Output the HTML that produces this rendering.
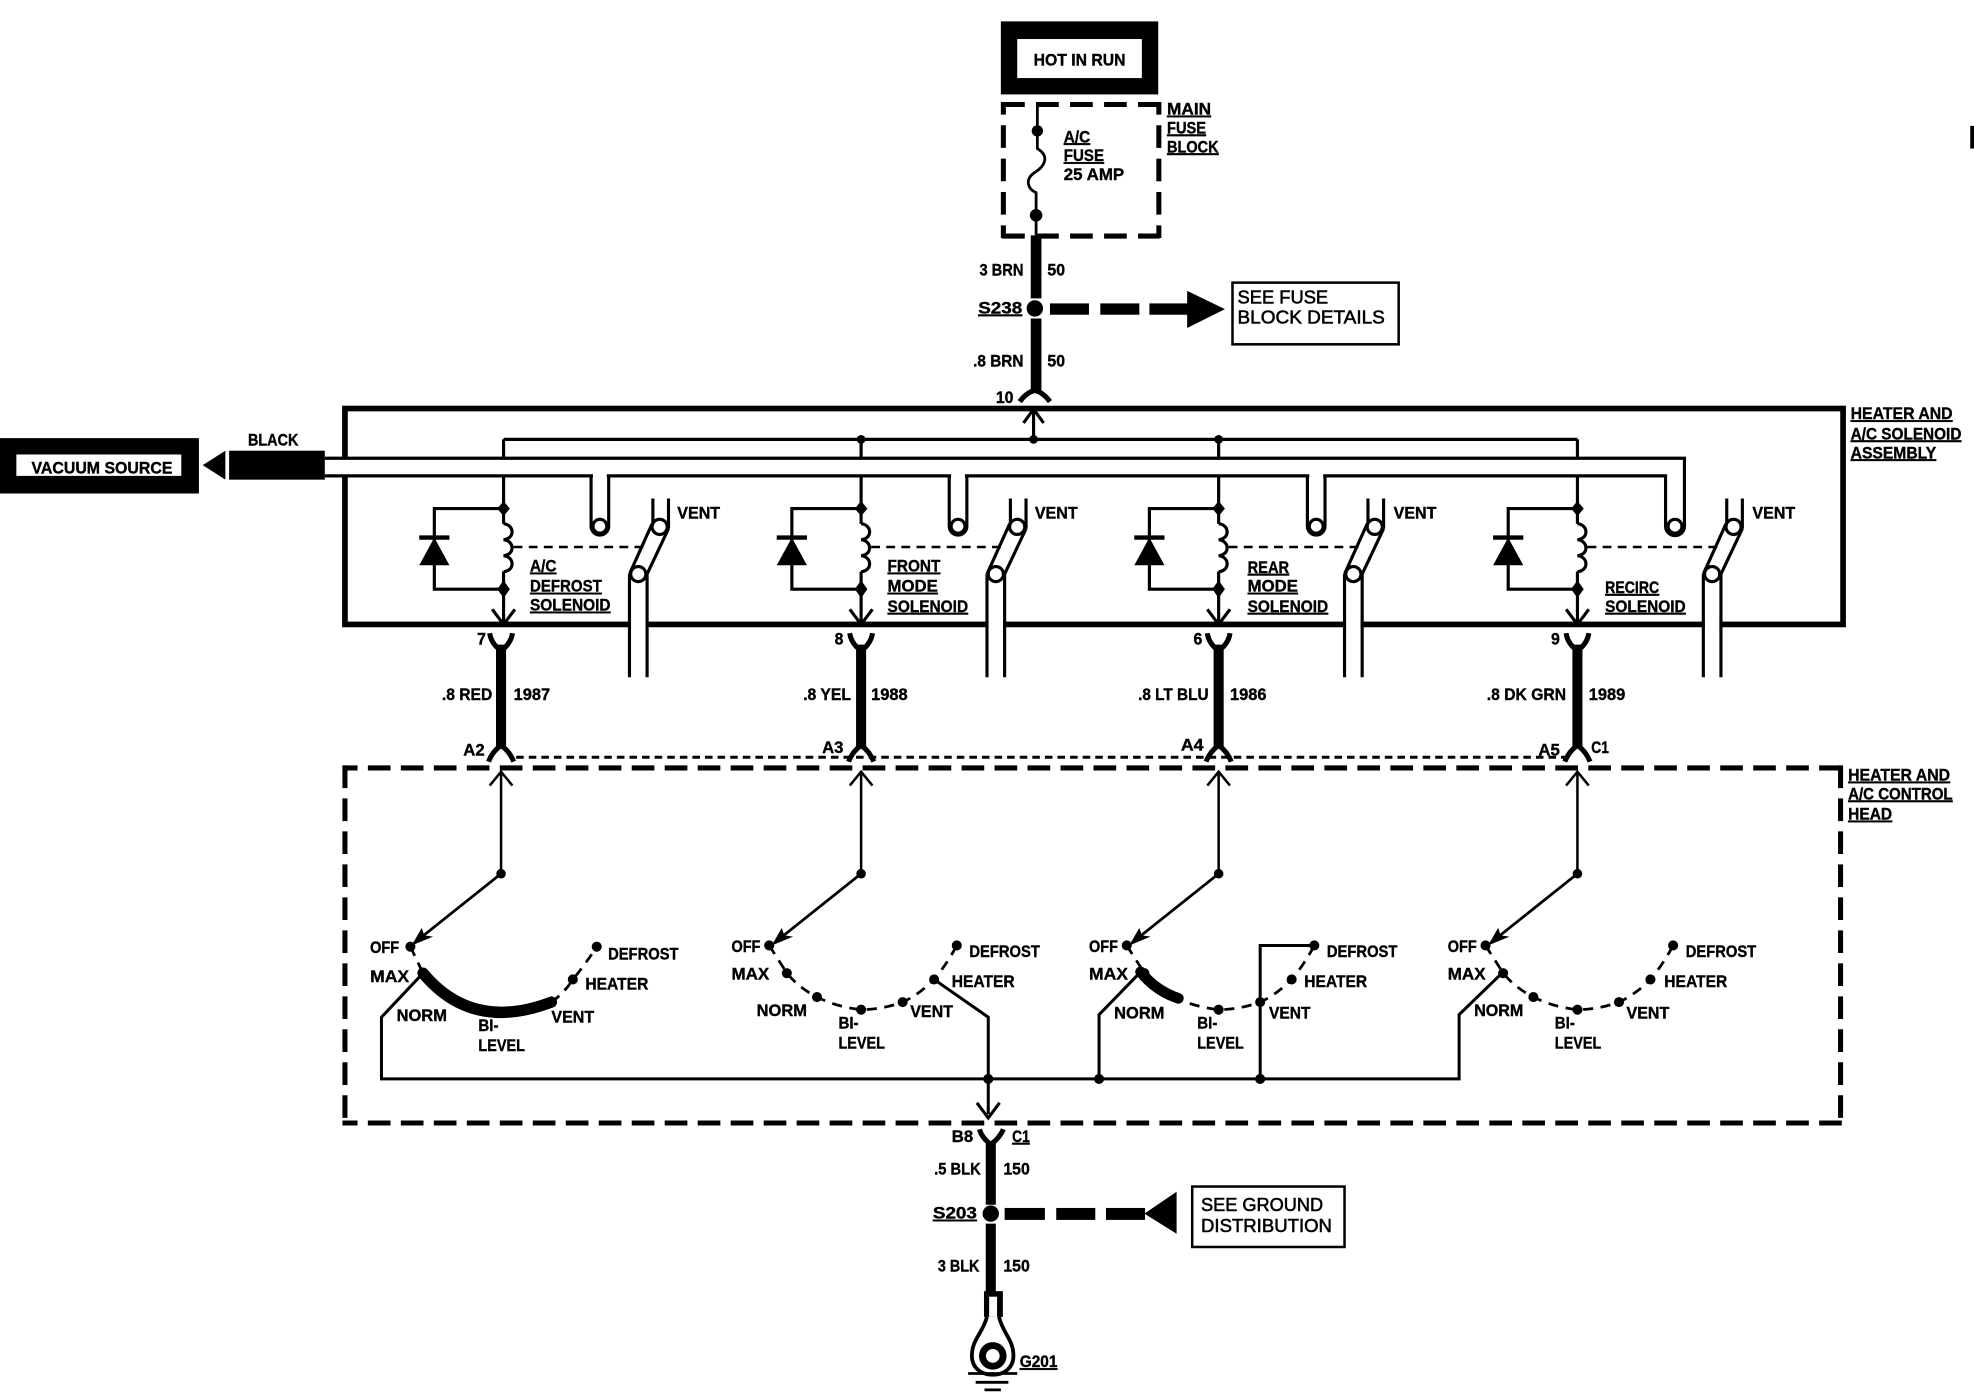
<!DOCTYPE html>
<html><head><meta charset="utf-8"><title>Heater and A/C wiring diagram</title>
<style>
html,body{margin:0;padding:0;background:#fff}
svg{display:block}
text{font-family:"Liberation Sans",sans-serif;font-weight:bold;font-size:13.5px;fill:#000;stroke:#000;stroke-width:.3}
.u{text-decoration:underline}
.b{font-size:15px;font-weight:normal;stroke-width:.45}
</style></head><body>
<svg width="1974" height="1392" viewBox="0 0 1568 1105.7" xmlns="http://www.w3.org/2000/svg">
<defs>
<g id="sol" fill="none" stroke="#000" stroke-width="2.5">
  <path d="M0 378V416M0 454V496M-9 484L0 496L9 484"/>
  <path d="M0 404H-55V468H0"/>
  <path d="M0 416c9 1 9 12 0 12.7c9 1 9 12 0 12.7c9 1 9 12 0 12.7"/>
  <polygon points="-55,427 -67,449 -43,449" fill="#000" stroke="none"/>
  <path d="M-67 427H-43" stroke-width="3.5"/>
  <polygon points="0,398 5,404 0,410 -5,404" fill="#000" stroke="none"/>
  <polygon points="0,461 5,468 0,475 -5,468" fill="#000" stroke="none"/>
  <path d="M8 434.5H114" stroke-dasharray="7 5" stroke-width="2"/>
  <path d="M118.6 396V416M131 396V420"/>
  <path d="M118 416L100 456M131 420L114 456"/>
  <circle cx="124" cy="418.5" r="6" fill="#fff"/>
  <rect x="101.2" y="491" width="11.6" height="9" fill="#fff" stroke="none"/>
  <path d="M100 456V538M114 456V538"/>
  <circle cx="107" cy="456" r="6" fill="#fff"/>
</g>
<g id="stub" fill="none" stroke="#000" stroke-width="2.5">
  <rect x="-5.5" y="376" width="11" height="5" fill="#fff" stroke="none"/>
  <path d="M-7 378V418a7 7 0 0 0 14 0V378"/>
  <circle cx="0" cy="418" r="5.5" fill="#fff"/>
</g>
<g id="conn" fill="none" stroke="#000">
  <path d="M-9 503Q-8 511 0 517Q8 511 9 503" stroke-width="4"/>
  <path d="M0 512V593" stroke-width="8"/>
  <path d="M-10 605Q-7 597 0 592Q7 597 10 605" stroke-width="4"/>
  <path d="M0 694V614M-9 624L0 613L9 624" stroke-width="2"/>
  <circle cx="0" cy="694" r="3.8" fill="#000" stroke="none"/>
  <path d="M0 694L-69 749" stroke-width="2.2"/>
  <polygon points="-63,737 -71,751 -54,744 -61,743" fill="#000" stroke="none"/>
</g>
<g id="dial" fill="#000">
  <path d="M611 751Q620 765 625 773Q635 785 649 792Q665 800 684 802Q700 802 717 796Q730 790 742 778Q752 766 760 751" fill="none" stroke="#000" stroke-width="2.2" stroke-dasharray="8 6"/>
  <circle cx="611" cy="751" r="4"/><circle cx="625" cy="773" r="4"/><circle cx="649" cy="792" r="4"/>
  <circle cx="684" cy="802" r="4"/><circle cx="717" cy="796" r="4"/><circle cx="742" cy="778" r="4"/><circle cx="760" cy="751" r="4"/>
</g>
</defs>

<!-- top -->
<rect x="795" y="17" width="125" height="58" fill="#000"/>
<rect x="808" y="31" width="99" height="31" fill="#fff"/>
<text lengthAdjust="spacingAndGlyphs" x="821" y="52" textLength="73">HOT IN RUN</text>
<path d="M796 83H921M796 187.5H921" fill="none" stroke="#000" stroke-width="4" stroke-dasharray="18 9"/>
<path d="M797 81V189M920.5 81V189" fill="none" stroke="#000" stroke-width="4" stroke-dasharray="18 8.5" stroke-dashoffset="8"/>
<path d="M824 82V118C834 124 830 132 822 137C814 142 816 150 823 153V187" fill="none" stroke="#000" stroke-width="2.2"/>
<circle cx="824" cy="104" r="4.5"/><circle cx="823" cy="171" r="5"/>
<text lengthAdjust="spacingAndGlyphs" class="u" x="845" y="113" textLength="21">A/C</text>
<text lengthAdjust="spacingAndGlyphs" class="u" x="845" y="128" textLength="32">FUSE</text>
<text lengthAdjust="spacingAndGlyphs" x="845" y="143" textLength="48">25 AMP</text>
<text lengthAdjust="spacingAndGlyphs" class="u" x="927" y="91" textLength="35">MAIN</text>
<text lengthAdjust="spacingAndGlyphs" class="u" x="927" y="106" textLength="31">FUSE</text>
<text lengthAdjust="spacingAndGlyphs" class="u" x="927" y="121" textLength="41">BLOCK</text>
<path d="M823 187V237M823 253V312" stroke="#000" stroke-width="8.5" fill="none"/>
<circle cx="822" cy="245" r="6.5"/>
<text lengthAdjust="spacingAndGlyphs" x="778" y="219" textLength="35">3 BRN</text><text lengthAdjust="spacingAndGlyphs" x="832" y="219" textLength="14">50</text>
<text lengthAdjust="spacingAndGlyphs" class="u" x="777" y="249" textLength="35">S238</text>
<text lengthAdjust="spacingAndGlyphs" x="773" y="291" textLength="40">.8 BRN</text><text lengthAdjust="spacingAndGlyphs" x="832" y="291" textLength="14">50</text>
<text lengthAdjust="spacingAndGlyphs" x="791" y="320" textLength="14">10</text>
<rect x="834" y="241" width="31" height="9"/><rect x="874" y="241" width="31" height="9"/><rect x="913" y="241" width="31" height="9"/>
<polygon points="943,231 973,245.5 943,260.5"/>
<rect x="979" y="224.5" width="132" height="49" fill="#fff" stroke="#000" stroke-width="2"/>
<text lengthAdjust="spacingAndGlyphs" class="b" x="983" y="241" textLength="72">SEE FUSE</text>
<text lengthAdjust="spacingAndGlyphs" class="b" x="983" y="257" textLength="117">BLOCK DETAILS</text>

<!-- solenoid assembly -->
<rect x="274" y="324.5" width="1190" height="171.5" fill="none" stroke="#000" stroke-width="4.5"/>
<path d="M400 349H1253M400 349V366M684 349V366M968 349V366M1253 349V366M821 349V326M813 336L821 325L829 336" fill="none" stroke="#000" stroke-width="2.5"/>
<circle cx="684" cy="349" r="3.5"/><circle cx="821" cy="349" r="3.5"/><circle cx="968" cy="349" r="3.5"/>
<path d="M810 319Q815 312 822 310Q829 312 834 319" fill="none" stroke="#000" stroke-width="4"/>
<rect x="258" y="364" width="1080" height="14" fill="#fff"/>
<path d="M258 364H1338V418a7.5 7.5 0 0 1-15 0V378H258" fill="none" stroke="#000" stroke-width="2.5"/>
<circle cx="1330.5" cy="418" r="5.5" fill="#fff" stroke="#000" stroke-width="2.5"/>
<use href="#stub" x="476.5"/><use href="#stub" x="761"/><use href="#stub" x="1045.5"/>
<use href="#sol" x="400"/>
<use href="#sol" x="684"/>
<use href="#sol" x="968"/>
<use href="#sol" x="1253"/>

<rect x="0" y="348" width="158" height="44"/>
<rect x="13" y="361" width="131" height="17" fill="#fff"/>
<text lengthAdjust="spacingAndGlyphs" x="25" y="376" textLength="112">VACUUM SOURCE</text>
<polygon points="161,369.5 179,358 179,381"/>
<rect x="182" y="358" width="76" height="23"/>
<text lengthAdjust="spacingAndGlyphs" x="197" y="354" textLength="40">BLACK</text>
<text lengthAdjust="spacingAndGlyphs" class="u" x="1470" y="333" textLength="81">HEATER AND</text>
<text lengthAdjust="spacingAndGlyphs" class="u" x="1470" y="349" textLength="88">A/C SOLENOID</text>
<text lengthAdjust="spacingAndGlyphs" class="u" x="1470" y="364" textLength="68">ASSEMBLY</text>

<text lengthAdjust="spacingAndGlyphs" x="538" y="412" textLength="34">VENT</text><text lengthAdjust="spacingAndGlyphs" x="822" y="412" textLength="34">VENT</text><text lengthAdjust="spacingAndGlyphs" x="1107" y="412" textLength="34">VENT</text><text lengthAdjust="spacingAndGlyphs" x="1392" y="412" textLength="34">VENT</text>
<text lengthAdjust="spacingAndGlyphs" class="u" x="421" y="454" textLength="21">A/C</text><text lengthAdjust="spacingAndGlyphs" class="u" x="421" y="470" textLength="57">DEFROST</text><text lengthAdjust="spacingAndGlyphs" class="u" x="421" y="485" textLength="64">SOLENOID</text>
<text lengthAdjust="spacingAndGlyphs" class="u" x="705" y="454" textLength="42">FRONT</text><text lengthAdjust="spacingAndGlyphs" class="u" x="705" y="470" textLength="40">MODE</text><text lengthAdjust="spacingAndGlyphs" class="u" x="705" y="486" textLength="64">SOLENOID</text>
<text lengthAdjust="spacingAndGlyphs" class="u" x="991" y="455" textLength="33">REAR</text><text lengthAdjust="spacingAndGlyphs" class="u" x="991" y="470" textLength="40">MODE</text><text lengthAdjust="spacingAndGlyphs" class="u" x="991" y="486" textLength="64">SOLENOID</text>
<text lengthAdjust="spacingAndGlyphs" class="u" x="1275" y="471" textLength="43">RECIRC</text><text lengthAdjust="spacingAndGlyphs" class="u" x="1275" y="486" textLength="64">SOLENOID</text>

<!-- harness -->
<path d="M410 601.5H1245" fill="none" stroke="#000" stroke-width="2.4" stroke-dasharray="6 4"/>
<path d="M272 610H1464M272 892H1464" fill="none" stroke="#000" stroke-width="4" stroke-dasharray="18 8.2" stroke-dashoffset="6"/>
<path d="M274 608V894M1462 608V894" fill="none" stroke="#000" stroke-width="4" stroke-dasharray="18 8.2"/>
<use href="#conn" x="398"/><use href="#conn" x="684"/><use href="#conn" x="968"/><use href="#conn" x="1253"/>

<text lengthAdjust="spacingAndGlyphs" x="379" y="512" textLength="7">7</text><text lengthAdjust="spacingAndGlyphs" x="663" y="512" textLength="7">8</text><text lengthAdjust="spacingAndGlyphs" x="948" y="512" textLength="7">6</text><text lengthAdjust="spacingAndGlyphs" x="1232" y="512" textLength="7">9</text>
<text lengthAdjust="spacingAndGlyphs" x="351" y="556" textLength="40">.8 RED</text><text lengthAdjust="spacingAndGlyphs" x="408" y="556" textLength="29">1987</text>
<text lengthAdjust="spacingAndGlyphs" x="638" y="556" textLength="38">.8 YEL</text><text lengthAdjust="spacingAndGlyphs" x="692" y="556" textLength="29">1988</text>
<text lengthAdjust="spacingAndGlyphs" x="904" y="556" textLength="56">.8 LT BLU</text><text lengthAdjust="spacingAndGlyphs" x="977" y="556" textLength="29">1986</text>
<text lengthAdjust="spacingAndGlyphs" x="1181" y="556" textLength="63">.8 DK GRN</text><text lengthAdjust="spacingAndGlyphs" x="1262" y="556" textLength="29">1989</text>
<text lengthAdjust="spacingAndGlyphs" x="368" y="600" textLength="17">A2</text><text lengthAdjust="spacingAndGlyphs" x="653" y="598" textLength="17">A3</text><text lengthAdjust="spacingAndGlyphs" x="938" y="596" textLength="18">A4</text><text lengthAdjust="spacingAndGlyphs" x="1222" y="600" textLength="17">A5</text><text lengthAdjust="spacingAndGlyphs" x="1264" y="598" textLength="14">C1</text>
<text lengthAdjust="spacingAndGlyphs" class="u" x="1468" y="620" textLength="81">HEATER AND</text>
<text lengthAdjust="spacingAndGlyphs" class="u" x="1468" y="635" textLength="83">A/C CONTROL</text>
<text lengthAdjust="spacingAndGlyphs" class="u" x="1468" y="651" textLength="35">HEAD</text>

<!-- dials -->
<path d="M326 752L336 773M438 796Q448 789 455 778Q465 766 474 752" fill="none" stroke="#000" stroke-width="2.2" stroke-dasharray="8 6"/>
<circle cx="326" cy="752" r="4"/><circle cx="455" cy="778" r="4"/><circle cx="474" cy="752" r="4"/>
<use href="#dial"/><use href="#dial" x="284"/><use href="#dial" x="569"/>
<path d="M336 773Q375 820 438 796" fill="none" stroke="#000" stroke-width="9" stroke-linecap="round"/>
<path d="M906 772Q918 787 936 793" fill="none" stroke="#000" stroke-width="8.5" stroke-linecap="round"/>
<path d="M336 773L303 808V857H1159V806L1193 773M742 778L785 808V885M776 876L785 888L794 876M873 857V806L906 772M1001 857V751H1045" fill="none" stroke="#000" stroke-width="2.4"/>
<circle cx="785" cy="857" r="4"/><circle cx="873" cy="857" r="4"/><circle cx="1001" cy="857" r="4"/>

<text lengthAdjust="spacingAndGlyphs" x="294" y="757" textLength="23">OFF</text><text lengthAdjust="spacingAndGlyphs" x="294" y="780" textLength="31">MAX</text><text lengthAdjust="spacingAndGlyphs" x="315" y="811" textLength="40">NORM</text><text lengthAdjust="spacingAndGlyphs" x="380" y="819" textLength="16">BI-</text><text lengthAdjust="spacingAndGlyphs" x="380" y="835" textLength="37">LEVEL</text><text lengthAdjust="spacingAndGlyphs" x="438" y="812" textLength="34">VENT</text><text lengthAdjust="spacingAndGlyphs" x="465" y="786" textLength="50">HEATER</text><text lengthAdjust="spacingAndGlyphs" x="483" y="762" textLength="56">DEFROST</text>
<text lengthAdjust="spacingAndGlyphs" x="581" y="756" textLength="23">OFF</text><text lengthAdjust="spacingAndGlyphs" x="581" y="778" textLength="30">MAX</text><text lengthAdjust="spacingAndGlyphs" x="601" y="807" textLength="40">NORM</text><text lengthAdjust="spacingAndGlyphs" x="666" y="817" textLength="16">BI-</text><text lengthAdjust="spacingAndGlyphs" x="666" y="833" textLength="37">LEVEL</text><text lengthAdjust="spacingAndGlyphs" x="723" y="808" textLength="34">VENT</text><text lengthAdjust="spacingAndGlyphs" x="756" y="784" textLength="50">HEATER</text><text lengthAdjust="spacingAndGlyphs" x="770" y="760" textLength="56">DEFROST</text>
<text lengthAdjust="spacingAndGlyphs" x="865" y="756" textLength="23">OFF</text><text lengthAdjust="spacingAndGlyphs" x="865" y="778" textLength="31">MAX</text><text lengthAdjust="spacingAndGlyphs" x="885" y="809" textLength="40">NORM</text><text lengthAdjust="spacingAndGlyphs" x="951" y="817" textLength="16">BI-</text><text lengthAdjust="spacingAndGlyphs" x="951" y="833" textLength="37">LEVEL</text><text lengthAdjust="spacingAndGlyphs" x="1008" y="809" textLength="33">VENT</text><text lengthAdjust="spacingAndGlyphs" x="1036" y="784" textLength="50">HEATER</text><text lengthAdjust="spacingAndGlyphs" x="1054" y="760" textLength="56">DEFROST</text>
<text lengthAdjust="spacingAndGlyphs" x="1150" y="756" textLength="23">OFF</text><text lengthAdjust="spacingAndGlyphs" x="1150" y="778" textLength="30">MAX</text><text lengthAdjust="spacingAndGlyphs" x="1171" y="807" textLength="39">NORM</text><text lengthAdjust="spacingAndGlyphs" x="1235" y="817" textLength="16">BI-</text><text lengthAdjust="spacingAndGlyphs" x="1235" y="833" textLength="37">LEVEL</text><text lengthAdjust="spacingAndGlyphs" x="1292" y="809" textLength="34">VENT</text><text lengthAdjust="spacingAndGlyphs" x="1322" y="784" textLength="50">HEATER</text><text lengthAdjust="spacingAndGlyphs" x="1339" y="760" textLength="56">DEFROST</text>

<!-- bottom -->
<path d="M778 897Q780 904 787 909Q794 904 797 897" fill="none" stroke="#000" stroke-width="4"/>
<path d="M787 908V957M787 972V1028" fill="none" stroke="#000" stroke-width="8"/>
<circle cx="787" cy="964" r="6.5"/>
<text lengthAdjust="spacingAndGlyphs" x="756" y="907" textLength="17">B8</text><text lengthAdjust="spacingAndGlyphs" class="u" x="804" y="907" textLength="14">C1</text>
<text lengthAdjust="spacingAndGlyphs" x="742" y="933" textLength="37">.5 BLK</text><text lengthAdjust="spacingAndGlyphs" x="797" y="933" textLength="21">150</text>
<text lengthAdjust="spacingAndGlyphs" class="u" x="741" y="968" textLength="35">S203</text>
<text lengthAdjust="spacingAndGlyphs" x="745" y="1010" textLength="33">3 BLK</text><text lengthAdjust="spacingAndGlyphs" x="797" y="1010" textLength="21">150</text>
<rect x="798" y="959.5" width="32" height="9.5"/><rect x="839" y="959.5" width="31" height="9.5"/><rect x="878.5" y="959.5" width="31" height="9.5"/>
<polygon points="909,964 934.6,946.6 934.6,980"/>
<rect x="947" y="942.5" width="121" height="48" fill="#fff" stroke="#000" stroke-width="2"/>
<text lengthAdjust="spacingAndGlyphs" class="b" x="954" y="962" textLength="97">SEE GROUND</text>
<text lengthAdjust="spacingAndGlyphs" class="b" x="954" y="978.5" textLength="104">DISTRIBUTION</text>
<rect x="781.6" y="1025.6" width="15" height="20.5"/>
<rect x="785.7" y="1030" width="6.3" height="16" fill="#fff"/>
<path d="M784 1046C780 1060 772 1064 772 1077C772 1087 780 1092 788.6 1092C797 1092 805 1087 805 1077C805 1064 797 1060 793.5 1046" fill="#fff" stroke="#000" stroke-width="3"/>
<circle cx="788.6" cy="1077" r="8.2" fill="#fff" stroke="#000" stroke-width="5.5"/>
<path d="M769 1091H808M775 1098H801M782 1104H795" fill="none" stroke="#000" stroke-width="2.2"/>
<text lengthAdjust="spacingAndGlyphs" class="u" x="810" y="1086" textLength="30">G201</text>
<rect x="1565" y="100" width="3" height="18"/>
</svg>
</body></html>
